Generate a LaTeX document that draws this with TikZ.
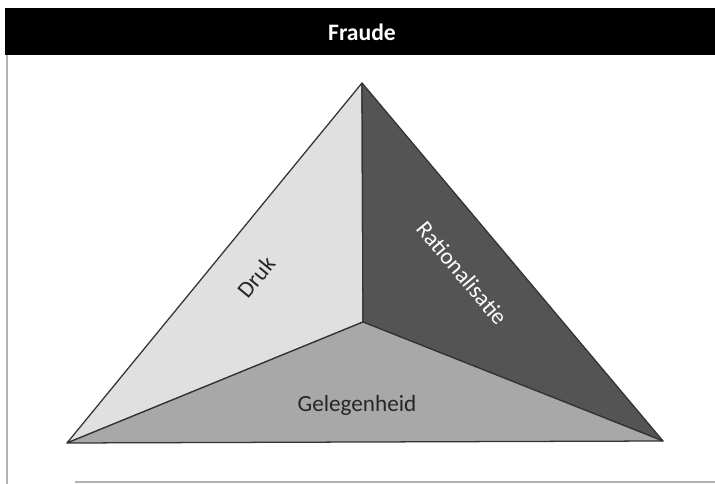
\documentclass[tikz,border=0pt]{standalone}
\usepackage{fontspec}
\setmainfont{Carlito}
\usetikzlibrary{positioning}
\definecolor{lichtgrijs}{gray}{0.88}
\definecolor{middengrijs}{gray}{0.66}
\definecolor{donkergrijs}{gray}{0.33}
\definecolor{rand}{gray}{0.2}
\tikzset{face/.style={draw=rand, line width=0.9pt, line join=round},
facelabel/.style={font=\fontsize{16.5}{19}\selectfont, inner sep=0pt},
frameline/.style={draw=black!30, line width=1.5pt}}

\begin{document}
\begin{tikzpicture}[x=0.025cm, y=-0.025cm]
  \useasboundingbox (0,0) rectangle (715,484);
  % header
  \fill[black] (5,8) rectangle (715,55);
  \node (titel) [text=white, font=\bfseries\fontsize{16.8}{19}\selectfont]
    at (362,32) {Fraude};
  \draw[frameline] (7,55) -- (7,484);
  \draw[frameline] (75,482) -- (715,482);
  % triangle
  \coordinate (top)    at (362,83);
  \coordinate (links)  at (67,443);
  \coordinate (rechts) at (663,441);
  \coordinate (midden) at (363,322);
  \path[face, fill=lichtgrijs]  (top) -- (midden) -- (links) -- cycle;
  \path[face, fill=donkergrijs] (top) -- (rechts) -- (midden) -- cycle;
  \path[face, fill=middengrijs] (links) -- (midden) -- (rechts) -- cycle;
  \node (druk) [facelabel, text=black!85, rotate=50.7] at (256,277) {Druk};
  \node (rationalisatie) [facelabel, text=white, rotate=-50]
    at (462,273) {Rationalisatie};
  \node (gelegenheid) [facelabel, text=black!85] at (357,405) {Gelegenheid};
\end{tikzpicture}
\end{document}
